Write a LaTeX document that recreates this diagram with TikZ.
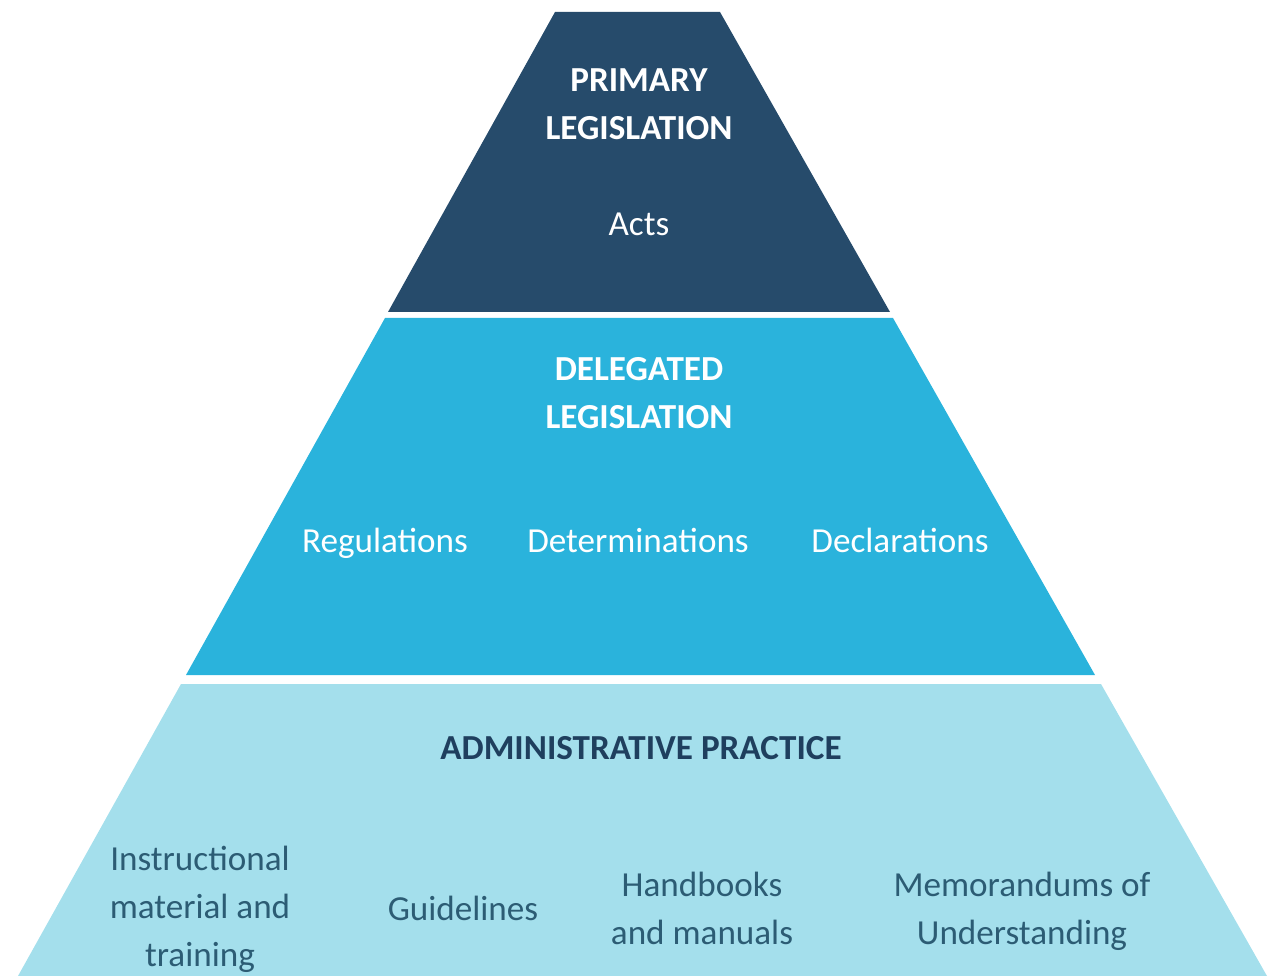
\documentclass[tikz,border=0pt]{standalone}
\usepackage{fontspec}
\setmainfont{Carlito}
\usepackage{tikz}

\definecolor{navy}{HTML}{264B6B}
\definecolor{midblue}{HTML}{2AB3DC}
\definecolor{paleblue}{HTML}{A4DFEC}
\definecolor{inktext}{HTML}{2C5C74}
\definecolor{inkhead}{HTML}{1F3F5E}

\begin{document}
\begin{tikzpicture}
[x=0.02cm, y=-0.02cm,
 tier/.style={draw=none},
 head/.style={font=\fontsize{20}{27.3}\selectfont\bfseries, align=center, inner sep=0pt},
 item/.style={font=\fontsize{20}{27.3}\selectfont, align=center, inner sep=0pt}]
\useasboundingbox (0,0) rectangle (1268,976);
% tiers
\fill[tier, navy] (555,12) -- (720,12) -- (890,312) -- (388,312) -- cycle;
\fill[tier, midblue] (385,318) -- (893,318) -- (1095,675) -- (186,675) -- cycle;
\fill[tier, paleblue] (181,684) -- (1101,684) -- (1267,976) -- (18,976) -- cycle;
% top
\node[head, text=white] (prim) at (639,104) {PRIMARY\\LEGISLATION};
\node[item, text=white] (acts) at (639,224) {Acts};
% middle
\node[head, text=white] (dele) at (639,393) {DELEGATED\\LEGISLATION};
\node[item, text=white] (regs) at (385,543) {Regulations};
\node[item, text=white] (dets) at (638,540) {Determinations};
\node[item, text=white] (decs) at (900,540) {Declarations};
% bottom
\node[head, text=inkhead] (admin) at (641,748) {ADMINISTRATIVE PRACTICE};
\node[item, text=inktext] (instr) at (200,909) {Instructional\\material and\\training};
\node[item, text=inktext] (guide) at (463,908) {Guidelines};
\node[item, text=inktext] (hand) at (702,908) {Handbooks\\and manuals};
\node[item, text=inktext] (memo) at (1022,911) {Memorandums of\\Understanding};
\end{tikzpicture}
\end{document}
